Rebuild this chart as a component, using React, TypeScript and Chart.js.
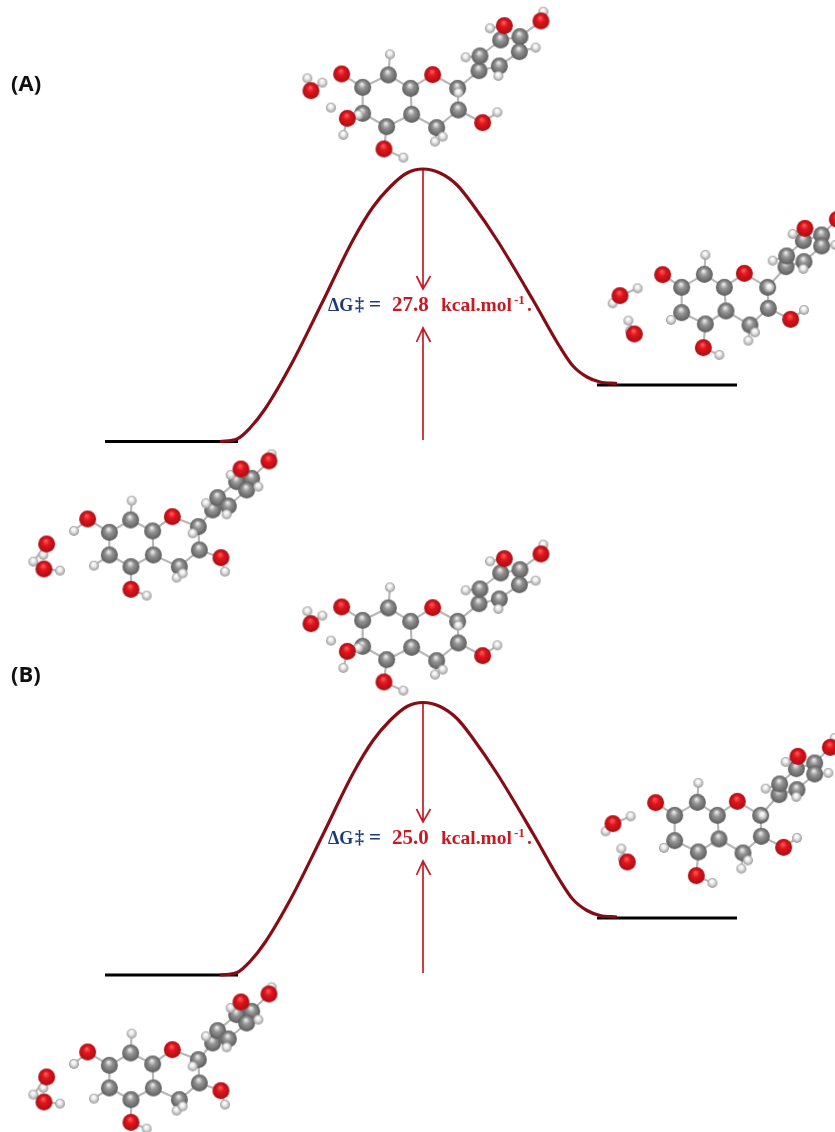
import React, { useEffect, useRef } from "react";
import { Chart, registerables } from "chart.js";

Chart.register(...registerables);

type Pt = [number, number];

// ---- reaction profile ----
const profileX = [220, 237, 250, 265, 292, 322, 353, 373, 390, 407, 423, 440, 457, 473, 497, 533, 560, 573, 587, 600, 617];
const profileAY = [441.5, 439, 428, 409, 363, 303, 240, 207, 187, 173, 169, 173, 185, 205, 240, 300, 347, 366, 377, 382, 383.5];
const profileBY = [975, 972.5, 961.5, 942.5, 896.5, 836.5, 773.5, 740.5, 720.5, 706.5, 702.5, 706.5, 718.5, 738.5, 773.5, 833.5, 880.5, 899.5, 910.5, 915.5, 917];

const levelsA: Pt[][] = [[[105, 441.5], [238, 441.5]], [[597, 385], [737, 385]]];
const levelsB: Pt[][] = [[[105, 975], [238, 975]], [[597, 918], [737, 918]]];

const arrowsA: Pt[][] = [
  [[423, 170], [423, 288]], [[416.5, 276], [423, 289], [430.5, 276]],
  [[423, 329], [423, 440]], [[416.5, 342], [423, 328], [430.5, 342]],
];
const arrowsB: Pt[][] = [
  [[423, 703], [423, 821]], [[416.5, 809], [423, 822], [430.5, 809]],
  [[423, 862], [423, 973]], [[416.5, 875], [423, 861], [430.5, 875]],
];

const panelLabels = ["(A)", "(B)"];
const barrierValues = ["27.8", "25.0"];

// ---- molecule geometry (units are 1/3 of a chart unit) ----
const tsCarbon: Pt[] = [[218, 262], [295, 225], [362, 265], [365, 343], [290, 380], [218, 340], [503, 265], [505, 330], [440, 383], [567, 212], [570, 168], [632, 120], [690, 110], [688, 155], [628, 198]];
const tsOxygen: Pt[] = [[155, 222], [428, 224], [172, 355], [282, 447], [578, 368], [643, 77], [753, 63], [63, 272]];
const tsHydrogen: Pt[] = [[300, 163], [52, 235], [97, 248], [123, 323], [160, 405], [340, 473], [622, 337], [760, 35], [600, 85], [527, 172], [737, 143], [625, 228], [505, 278], [435, 425], [458, 410], [205, 345]];
const tsBonds: Pt[] = [[0, 1], [1, 2], [2, 3], [3, 4], [4, 5], [5, 0], [0, 15], [2, 16], [16, 6], [6, 7], [7, 8], [8, 3], [4, 18], [7, 19], [6, 9], [9, 10], [10, 11], [11, 12], [12, 13], [13, 14], [14, 9], [11, 20], [12, 21], [1, 23], [22, 24], [22, 25], [18, 28], [19, 29], [21, 30], [20, 31], [10, 32], [13, 33], [14, 34], [6, 35], [8, 36], [8, 37], [17, 27], [5, 17]];

const productCarbon: Pt[] = [[245, 262], [313, 223], [373, 262], [378, 333], [316, 372], [245, 338], [503, 262], [505, 325], [450, 375], [558, 200], [560, 168], [610, 122], [665, 105], [665, 138], [612, 185]];
const productOxygen: Pt[] = [[188, 224], [433, 220], [310, 443], [572, 358], [615, 85], [712, 58], [60, 287], [103, 402]];
const productHydrogen: Pt[] = [[316, 165], [113, 265], [38, 310], [85, 362], [213, 360], [358, 465], [612, 330], [578, 102], [518, 182], [610, 207], [508, 262], [445, 422], [465, 397], [706, 135], [725, 30], [90, 393]];
const productBonds: Pt[] = [[0, 1], [1, 2], [2, 3], [3, 4], [4, 5], [5, 0], [0, 15], [2, 16], [16, 6], [6, 7], [7, 8], [8, 3], [4, 17], [7, 18], [6, 9], [9, 10], [10, 11], [11, 12], [12, 13], [13, 14], [14, 9], [11, 19], [12, 20], [1, 23], [21, 24], [21, 25], [22, 26], [5, 27], [17, 28], [18, 29], [19, 30], [10, 31], [14, 32], [6, 33], [8, 34], [8, 35], [13, 36], [20, 37]];

const reactantCarbon: Pt[] = [[268, 262], [332, 225], [398, 258], [400, 330], [333, 365], [268, 330], [535, 245], [538, 315], [478, 365], [578, 195], [593, 158], [650, 110], [695, 100], [680, 135], [625, 183]];
const reactantOxygen: Pt[] = [[203, 222], [457, 215], [333, 433], [603, 338], [663, 72], [747, 48], [80, 297], [72, 372]];
const reactantHydrogen: Pt[] = [[335, 167], [162, 258], [222, 362], [380, 452], [615, 380], [755, 28], [632, 90], [558, 175], [715, 125], [620, 208], [518, 265], [470, 398], [488, 385], [120, 377], [70, 330], [40, 350]];
const reactantBonds: Pt[] = [[0, 1], [1, 2], [2, 3], [3, 4], [4, 5], [5, 0], [0, 15], [2, 16], [16, 6], [6, 7], [7, 8], [8, 3], [4, 17], [7, 18], [6, 9], [9, 10], [10, 11], [11, 12], [12, 13], [13, 14], [14, 9], [11, 19], [12, 20], [1, 23], [15, 24], [5, 25], [17, 26], [18, 27], [20, 28], [19, 29], [10, 30], [13, 31], [14, 32], [6, 33], [8, 34], [8, 35], [22, 36], [21, 37], [21, 38], [22, 38]];

// molecule origin for each drawing
const molecules = [
  { carbon: tsCarbon, oxygen: tsOxygen, hydrogen: tsHydrogen, bonds: tsBonds, origin: [290, 0] },
  { carbon: tsCarbon, oxygen: tsOxygen, hydrogen: tsHydrogen, bonds: tsBonds, origin: [290, 533] },
  { carbon: productCarbon, oxygen: productOxygen, hydrogen: productHydrogen, bonds: productBonds, origin: [600, 200] },
  { carbon: productCarbon, oxygen: productOxygen, hydrogen: productHydrogen, bonds: productBonds, origin: [593, 728] },
  { carbon: reactantCarbon, oxygen: reactantOxygen, hydrogen: reactantHydrogen, bonds: reactantBonds, origin: [20, 445] },
  { carbon: reactantCarbon, oxygen: reactantOxygen, hydrogen: reactantHydrogen, bonds: reactantBonds, origin: [20, 978] },
];

function sphere(r: number, hi: string, mid: string, dark: string): HTMLCanvasElement {
  const c = document.createElement("canvas");
  c.width = c.height = Math.ceil(2 * r + 2);
  const ctx = c.getContext("2d")!;
  const m = c.width / 2;
  const g = ctx.createRadialGradient(m - r * 0.1, m - r * 0.4, r * 0.05, m, m, r);
  g.addColorStop(0, hi);
  g.addColorStop(0.4, mid);
  g.addColorStop(1, dark);
  ctx.fillStyle = g;
  ctx.beginPath();
  ctx.arc(m, m, r, 0, Math.PI * 2);
  ctx.fill();
  return c;
}

const serif = '"Liberation Serif"';
const NAVY = "#1f3a78";
const RED = "#c61a24";

const textPlugin = {
  id: "figureText",
  afterDatasetsDraw(chart: any) {
    const { ctx, scales } = chart;
    const X = (v: number) => scales.x.getPixelForValue(v);
    const Y = (v: number) => scales.y.getPixelForValue(v);
    const put = (s: string, x: number, y: number, font: string, color: string) => {
      ctx.font = font;
      ctx.fillStyle = color;
      ctx.fillText(s, X(x), Y(y));
    };
    ctx.save();
    ctx.textBaseline = "alphabetic";
    ctx.textAlign = "left";
    put(panelLabels[0], 11, 91, '700 22px "Open Sans"', "#101010");
    put(panelLabels[1], 11, 682, '700 22px "Open Sans"', "#101010");
    [310.5, 844].forEach((base, i) => {
      put("ΔG", 328, base, `bold 18px ${serif}`, NAVY);
      put("‡", 355, base - 1, `bold 18px ${serif}`, NAVY);
      put("=", 369, base, `bold 21px ${serif}`, NAVY);
      put(barrierValues[i], 392, base, `bold 21px ${serif}`, RED);
      put("kcal.mol", 441, base, `bold 19.5px ${serif}`, RED);
      put("-1", 514, base - 7, `bold 13px ${serif}`, RED);
      put(".", 527, base, `bold 19.5px ${serif}`, RED);
    });
    ctx.restore();
  },
};

const lineSet = (rows: { x: number; y: number }[], color: string, width: number, order: number, smooth = false) => ({
  type: "scatter" as const,
  data: rows,
  showLine: true,
  borderColor: color,
  borderWidth: width,
  cubicInterpolationMode: smooth ? "monotone" : "default",
  tension: smooth ? 0.4 : 0,
  pointRadius: 0,
  spanGaps: false,
  order,
});

const toRows = (parts: Pt[][]) =>
  parts.flatMap((p) => [...p.map(([x, y]) => ({ x, y })), { x: NaN, y: NaN }]);

export default function App() {
  const ref = useRef<HTMLCanvasElement>(null);
  useEffect(() => {
    document.body.style.margin = "0";
    const redBall = sphere(8.5, "#ff5a5a", "#e0141c", "#a80f15");
    const greyBall = sphere(8.5, "#ececec", "#949494", "#5c5c5c");
    const whiteBall = sphere(5, "#ffffff", "#ececec", "#9a9a9a");

    const datasets: any[] = [];
    const profileA = profileX.map((x, i) => ({ x, y: profileAY[i] }));
    const profileB = profileX.map((x, i) => ({ x, y: profileBY[i] }));
    datasets.push(lineSet(toRows(levelsA), "#000000", 3, 20));
    datasets.push(lineSet(toRows(levelsB), "#000000", 3, 20));
    datasets.push(lineSet(profileA, "#860c16", 3.2, 10, true));
    datasets.push(lineSet(profileB, "#860c16", 3.2, 10, true));
    datasets.push(lineSet(toRows(arrowsA), RED, 1.7, 15));
    datasets.push(lineSet(toRows(arrowsB), RED, 1.7, 15));

    molecules.forEach((m) => {
      const place = ([x, y]: Pt) => ({ x: x / 3 + m.origin[0], y: y / 3 + m.origin[1] });
      const all = [...m.carbon, ...m.oxygen, ...m.hydrogen];
      const bondRows = m.bonds.flatMap(([a, b]) =>
        all[a] && all[b] ? [place(all[a]), place(all[b]), { x: NaN, y: NaN }] : []
      );
      datasets.push(lineSet(bondRows, "#b8b8b8", 2.2, 9));
      const balls = (list: Pt[], img: HTMLCanvasElement, order: number) => ({
        type: "scatter" as const,
        data: list.map(place),
        pointStyle: img,
        pointRadius: 8,
        showLine: false,
        order,
      });
      datasets.push(balls(m.carbon, greyBall, 8));
      datasets.push(balls(m.hydrogen, whiteBall, 7));
      datasets.push(balls(m.oxygen, redBall, 6));
    });

    const chart = new Chart(ref.current!, {
      type: "scatter",
      data: { datasets },
      options: {
        animation: false,
        responsive: false,
        devicePixelRatio: 1,
        layout: { padding: 0, autoPadding: false },
        plugins: { legend: { display: false }, tooltip: { enabled: false }, title: { display: false } },
        scales: {
          x: { type: "linear", min: 0, max: 835, display: false },
          y: { type: "linear", min: 0, max: 1132, reverse: true, display: false },
        },
      },
      plugins: [textPlugin],
    } as any);
    return () => chart.destroy();
  }, []);
  return (
    <canvas
      ref={ref}
      width={835}
      height={1132}
      style={{ position: "absolute", left: 0, top: 0, width: 835, height: 1132, background: "#ffffff", filter: "blur(0.5px)" }}
    />
  );
}
